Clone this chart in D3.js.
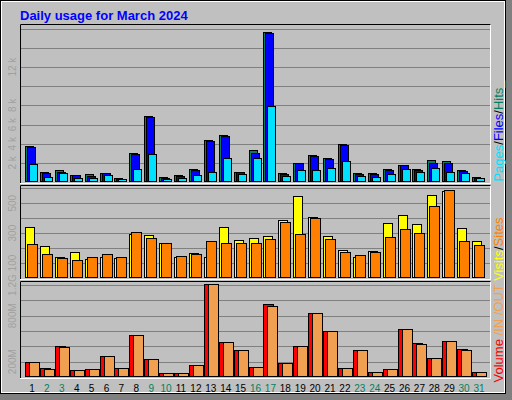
<!DOCTYPE html>
<html lang="en">
<head>
<meta charset="UTF-8">
<script src="https://d3js.org/d3.v7.min.js"></script>
<style>
  body { margin: 0; }
  svg text { font-family: "Liberation Sans", Arial, sans-serif; }
</style>
</head>
<body>
<svg width="512" height="400"></svg>
<script>
// data
const days = d3.range(1, 32);
const weekend = [2, 3, 9, 10, 16, 17, 23, 24, 30, 31];
const hits  = [3800,1030,1230,720,820,930,400,3000,6900,500,700,1340,4430,4940,1030,3300,15650,930,1950,2780,2470,4020,930,930,1340,1750,1340,2260,2160,1230,500];
const files = [3700,930,1030,700,600,930,350,2900,6800,400,600,1230,4330,4840,1030,3000,15550,820,1950,2680,2370,3900,820,820,1230,1750,1230,1950,1950,1130,400];
const pages = [1850,500,930,400,400,700,300,1340,2880,300,400,700,1030,2470,820,2470,7900,600,1230,1230,1440,2160,600,500,820,1340,1030,1440,1030,930,400];
const visits = [340,213,140,173,127,140,133,293,287,233,140,167,140,340,253,267,280,387,547,407,280,187,140,180,367,420,360,553,580,333,247];
const sites  = [227,160,133,120,140,160,140,307,267,233,147,160,247,233,233,233,260,373,293,400,260,173,153,173,273,327,300,480,587,247,220];
const volIn  = [200,120,400,93,107,280,120,547,240,53,53,160,1213,453,347,133,947,187,400,840,600,120,347,67,107,627,440,253,467,360,67];
const volOut = [200,107,387,93,107,280,120,547,240,53,53,160,1213,453,347,133,933,187,400,840,600,120,347,67,107,627,427,253,467,347,67];
const ticks1 = [[2000,"2 k"],[4000,"4 k"],[6000,"6 k"],[8000,"8 k"],[12000,"12 k"]];
const ticks2 = [[100,"100"],[300,"300"],[500,"500"]];
const ticks3 = [[200,"200M"],[800,"800M"],[1200,"1.2G"]];

const svg = d3.select("svg");
svg.append("rect").attr("width", 512).attr("height", 400).attr("fill", "#c0c0c0");
svg.append("rect").attr("x", 505).attr("y", 0).attr("width", 7).attr("height", 400).attr("fill", "#808080");
svg.append("rect").attr("x", 0).attr("y", 393).attr("width", 512).attr("height", 7).attr("fill", "#808080");
svg.append("rect").attr("x", 0.5).attr("y", 0.5).attr("width", 505).attr("height", 393)
  .attr("fill", "none").attr("stroke", "#000");
svg.append("rect").attr("x", 1.5).attr("y", 1.5).attr("width", 503).attr("height", 391)
  .attr("fill", "none").attr("stroke", "#fff");

svg.append("text").attr("x", 20).attr("y", 20).attr("fill", "#0000ff")
  .attr("font-size", 13).attr("font-weight", "bold").text("Daily usage for March 2024");

const x = d3.scaleLinear().domain([1, 31]).range([25, 472]);

function panel(top, bottom, max, gridStep, ticks) {
  svg.append("rect").attr("x", 20.5).attr("y", top + 0.5).attr("width", 470).attr("height", bottom - top)
    .attr("fill", "#c0c0c0").attr("stroke", "#fff");
  svg.append("path").attr("d", `M20.5,${bottom}V${top + 0.5}H490.5`).attr("stroke", "#000").attr("fill", "none");
  const y = d3.scaleLinear().domain([0, max]).range([bottom - 1, top + 1]);
  for (let v = gridStep; v < max; v += gridStep) {
    svg.append("line").attr("x1", 21).attr("x2", 490).attr("y1", Math.round(y(v)) + 0.5).attr("y2", Math.round(y(v)) + 0.5)
      .attr("stroke", "#808080");
  }
  ticks.forEach(([v, t]) => {
    svg.append("text").attr("transform", `translate(16,${y(v)}) rotate(-90)`)
      .attr("text-anchor", "middle").attr("font-size", 10).attr("fill", "#a0a0a0").text(t);
  });
  return y;
}

function bars(y, data, off, w, color) {
  svg.append("g").selectAll("rect").data(data).join("rect")
    .attr("x", (d, i) => Math.round(x(days[i])) + off + 0.5)
    .attr("y", d => Math.round(y(d)) + 0.5)
    .attr("width", w)
    .attr("height", d => Math.max(0, y.range()[0] - Math.round(y(d)) - 1))
    .attr("fill", color).attr("stroke", "#000");
}

const y1 = panel(24, 183, 16400, 2000, ticks1);
bars(y1, hits, 0, 8, "#00805c");
bars(y1, files, 2, 8, "#0000ff");
bars(y1, pages, 4, 8, "#00e0ff");

const y2 = panel(185, 279, 615, 100, ticks2);
bars(y2, visits, 0, 9, "#ffff00");
bars(y2, sites, 2, 10, "#ff8000");

const y3 = panel(281, 378, 1240, 200, ticks3);
bars(y3, volIn, 0, 10, "#ff0000");
bars(y3, volOut, 4, 10, "#f0a050");

svg.append("g").selectAll("text").data(days).join("text")
  .attr("x", d => x(d) + 7).attr("y", 392).attr("text-anchor", "middle").attr("font-size", 10)
  .attr("fill", d => weekend.includes(d) ? "#00805c" : "#000").text(d => d);

function sideLabel(yc, parts) {
  const t = svg.append("text").attr("transform", `translate(503,${yc}) rotate(-90)`)
    .attr("text-anchor", "middle").attr("font-size", 13);
  parts.forEach(([s, c]) => t.append("tspan").attr("fill", c).text(s));
}
sideLabel(131, [["Pages", "#00e0ff"], ["/", "#000"], ["Files", "#0000ff"], ["/", "#000"], ["Hits_", "#00805c"]]);
sideLabel(300, [["Volume", "#ff0000"], [" /IN /OUT", "#f0a050"], [" Visits", "#ffff00"], ["/", "#000"], ["Sites", "#ff8000"]]);
</script>
</body>
</html>
